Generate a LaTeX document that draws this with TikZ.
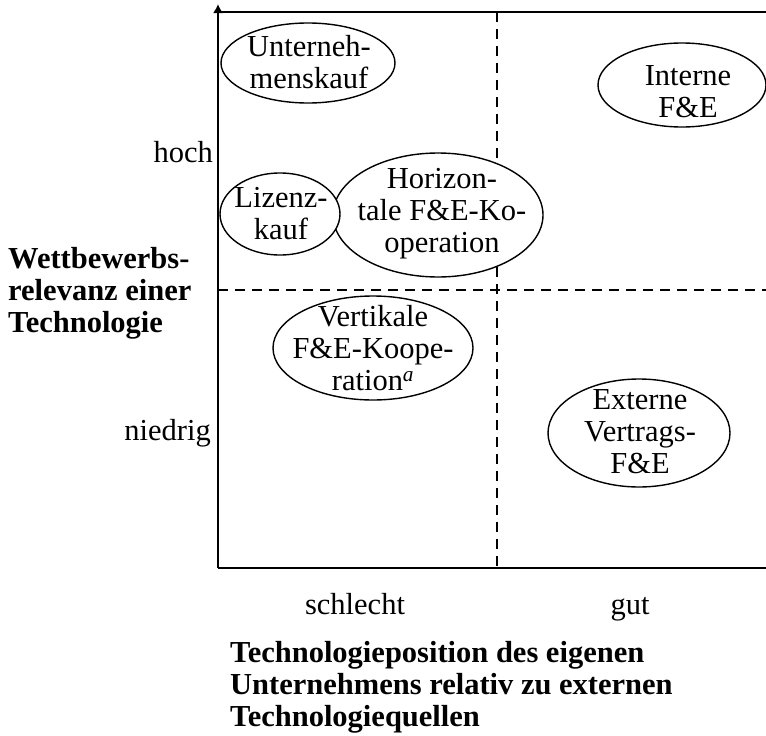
\documentclass[tikz,border=0pt]{standalone}
\usepackage{fontspec}
\setmainfont{Liberation Serif}
\usetikzlibrary{arrows.meta}
\begin{document}
\begin{tikzpicture}[x=1pt,y=-1pt,
  lbl/.style={font=\fontsize{30.5}{32}\selectfont, inner sep=0pt, align=center},
  axislbl/.style={font=\fontsize{30.5}{32}\selectfont\bfseries, inner sep=0pt, align=left},
  oval/.style={line width=1.4pt, fill=white},
  frame/.style={line width=2pt},
  divider/.style={line width=1.5pt, dash pattern=on 10pt off 7pt}]
\useasboundingbox (0,0) rectangle (766,736);

% frame of the matrix
\coordinate (O)  at (218,568);
\coordinate (AT) at (218,4);
\coordinate (TL) at (218,12);
\coordinate (TR) at (766,12);
\coordinate (BR) at (766,568);
\coordinate (VT) at (497,12);
\coordinate (VB) at (497,568);
\coordinate (HL) at (218,290);
\coordinate (HR) at (766,290);

\draw[frame] (O) -- (BR);
\draw[frame] (TL) -- (TR);
\draw[frame,-{Latex[length=9pt,width=10pt]}] (O) -- (AT);
\draw[divider] (VT) -- (VB);
\draw[divider] (HL) -- (HR);

% axis labels
\node[lbl, anchor=east] (hoch) at (213,152) {hoch};
\node[lbl, anchor=east] (niedrig) at (211,433) {niedrig};
\node[lbl, anchor=base] (schlecht) at (355,614) {schlecht};
\node[lbl, anchor=base] (gut) at (630,614) {gut};
\node[axislbl, anchor=west] (yaxis) at (8,293) {Wettbewerbs-\\relevanz einer\\Technologie};
\node[axislbl, anchor=north west] (xaxis) at (230,641) {Technologieposition des eigenen\\Unternehmens relativ zu externen\\Technologiequellen};

% sourcing options (white ovals cover the dividers)
\draw[oval] (308,63) ellipse [x radius=87, y radius=40];
\node[lbl] (uk) at (309,62) {Unterneh-\\menskauf};

\draw[oval] (682,85) ellipse [x radius=84, y radius=42];
\node[lbl] (int) at (688,92) {Interne\\F\&E};

\draw[oval] (438,215) ellipse [x radius=105, y radius=62];
\node[lbl] (hk) at (442,214) {Horizon-\\tale F\&E-Ko-\\operation};

\draw[oval] (280,214) ellipse [x radius=60, y radius=41];
\node[lbl] (lz) at (281,214) {Lizenz-\\kauf};

\draw[oval] (373,348) ellipse [x radius=100, y radius=52];
\node[lbl] (vk) at (373,348) {Vertikale\\F\&E-Koope-\\ration\textsuperscript{\itshape a}};

\draw[oval] (639,433) ellipse [x radius=91, y radius=54];
\node[lbl] (ext) at (640,432) {Externe\\Vertrags-\\F\&E};
\end{tikzpicture}
\end{document}
